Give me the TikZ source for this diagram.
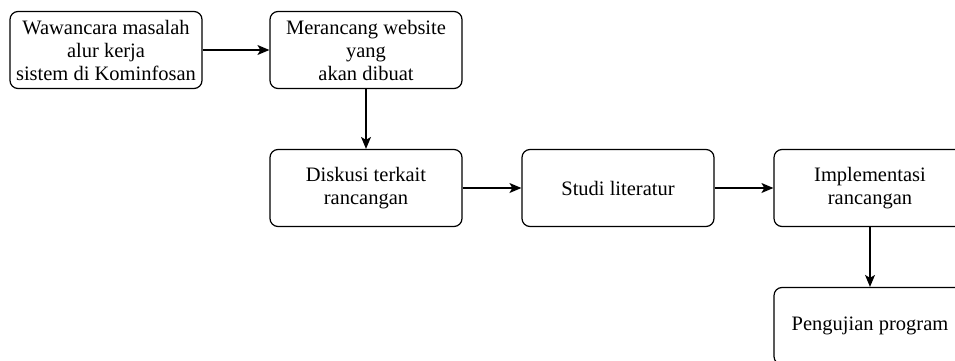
\documentclass[tikz,border=0pt]{standalone}
\usepackage{fontspec}
\setmainfont{Liberation Serif}
\usetikzlibrary{arrows.meta}

\begin{document}
\begin{tikzpicture}[x=1pt,y=-1pt,->,>={Stealth[length=12pt,width=10pt,inset=3pt]},line width=1.2pt,
    box/.style={draw,rounded corners=8pt,minimum width=192pt,minimum height=77pt,
      inner sep=2pt,align=center,font=\fontsize{20.5}{23}\selectfont}]
      \useasboundingbox (0,0) rectangle (955,361);
      \node[box] (wawancara) at (106,50) {Wawancara masalah\\alur kerja\\sistem di Kominfosan};
      \node[box] (merancang) at (366,50) {Merancang website\\yang\\akan dibuat};
      \node[box] (diskusi) at (366,188) {Diskusi terkait\\rancangan};
      \node[box] (studi) at (618,188) {Studi literatur};
      \node[box] (implementasi) at (870,188) {Implementasi\\rancangan};
      \node[box] (pengujian) at (870,326) {Pengujian program};
      % horizontal lines
      \draw (wawancara) -- (merancang);
      \draw (diskusi) -- (studi);
      \draw (studi) -- (implementasi);
      % vertical lines
      \draw (merancang) -- (diskusi);
      \draw (implementasi) -- (pengujian);
\end{tikzpicture}
\end{document}
